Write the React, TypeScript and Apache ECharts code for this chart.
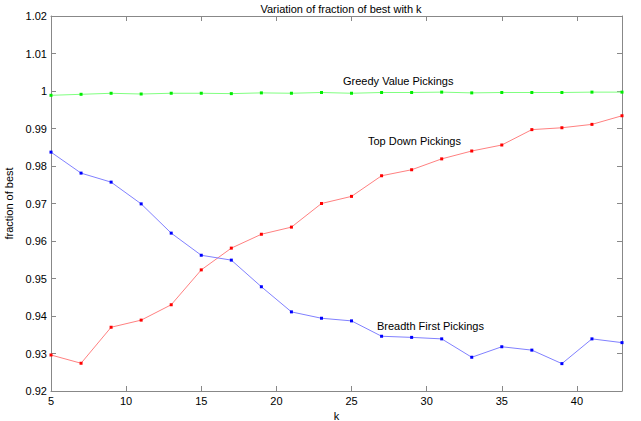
import React, { useEffect, useRef } from "react";
import * as echarts from "echarts";

const kValues = [5, 7, 9, 11, 13, 15, 17, 19, 21, 23, 25, 27, 29, 31, 33, 35, 37, 39, 41, 43];
const greedyValues = [0.99885, 0.99912, 0.99939, 0.9992, 0.9994, 0.9994, 0.9993, 0.9995, 0.9994, 0.9996, 0.9994, 0.9996, 0.9996, 0.9997, 0.9995, 0.9996, 0.9996, 0.9996, 0.9997, 0.9997];
const topDownValues = [0.9296, 0.9274, 0.937, 0.9389, 0.943, 0.9523, 0.9581, 0.9618, 0.9637, 0.97, 0.9719, 0.9774, 0.979, 0.9819, 0.984, 0.9856, 0.9897, 0.9902, 0.9911, 0.9934];
const breadthValues = [0.9837, 0.9781, 0.9757, 0.9699, 0.9621, 0.9562, 0.9549, 0.9478, 0.9411, 0.9394, 0.9387, 0.9346, 0.9343, 0.9339, 0.929, 0.9318, 0.9309, 0.9273, 0.9339, 0.9329];

const FONT = "Liberation Sans";

function pairs(vals: number[]) {
  return kValues.map((k, i) => [k, vals[i]]);
}

export default function App() {
  const ref = useRef<HTMLDivElement>(null);
  useEffect(() => {
    if (!ref.current) return;
    const chart = echarts.init(ref.current, null, { renderer: "svg" });
    const axisColor = "#888";
    const mkSeries = (name: string, vals: number[], line: string, mark: string) => ({
      name,
      type: "line",
      data: pairs(vals),
      symbol: "rect",
      symbolSize: 3,
      itemStyle: { color: mark },
      lineStyle: { color: line, width: 1 },
      xAxisIndex: 0,
      yAxisIndex: 0,
    });
    chart.setOption({
      animation: false,
      backgroundColor: "#fff",
      textStyle: { fontFamily: FONT },
      title: {
        text: "Variation of fraction of best with k",
        left: 336,
        textAlign: "center",
        top: -2,
        textStyle: { fontFamily: FONT, fontSize: 11, fontWeight: "normal", color: "#000" },
      },
      grid: { left: 51, right: 19, top: 16, bottom: 30, outerBoundsMode: "none", containLabel: false },
      xAxis: [
        {
          type: "value",
          min: 5,
          max: 43,
          interval: 5,
          name: "k",
          nameLocation: "middle",
          nameGap: 15,
          nameTextStyle: { fontFamily: FONT, fontSize: 11, color: "#000" },
          axisLine: { show: true, lineStyle: { color: axisColor } },
          axisTick: { show: true, inside: true, length: 5, lineStyle: { color: axisColor } },
          axisLabel: { fontFamily: FONT, fontSize: 11, color: "#000", margin: 4, showMaxLabel: false },
          splitLine: { show: false },
        },
        {
          type: "value",
          position: "top",
          min: 5,
          max: 43,
          interval: 5,
          axisLine: { show: true, lineStyle: { color: axisColor } },
          axisTick: { show: true, inside: true, length: 5, lineStyle: { color: axisColor } },
          axisLabel: { show: false },
          splitLine: { show: false },
        },
      ],
      yAxis: [
        {
          type: "value",
          min: 0.92,
          max: 1.02,
          interval: 0.01,
          name: "fraction of best",
          nameLocation: "middle",
          nameGap: 37,
          nameTextStyle: { fontFamily: FONT, fontSize: 11, color: "#000" },
          axisLine: { show: true, lineStyle: { color: axisColor } },
          axisTick: { show: true, inside: true, length: 5, lineStyle: { color: axisColor } },
          axisLabel: {
            fontFamily: FONT,
            fontSize: 11,
            color: "#000",
            margin: 4,
            formatter: (v: number) => String(+v.toFixed(2)),
          },
          splitLine: { show: false },
        },
        {
          type: "value",
          position: "right",
          min: 0.92,
          max: 1.02,
          interval: 0.01,
          axisLine: { show: true, lineStyle: { color: axisColor } },
          axisTick: { show: true, inside: true, length: 5, lineStyle: { color: axisColor } },
          axisLabel: { show: false },
          splitLine: { show: false },
        },
      ],
      series: [
        mkSeries("Greedy Value Pickings", greedyValues, "#80ff80", "#00ee00"),
        mkSeries("Top Down Pickings", topDownValues, "#ff8080", "#ff0000"),
        mkSeries("Breadth First Pickings", breadthValues, "#8080ff", "#0000ff"),
      ],
      graphic: [
        { type: "text", left: 343, top: 75, style: { text: "Greedy Value Pickings", font: `11px "${FONT}"`, fill: "#000" } },
        { type: "text", left: 368, top: 135, style: { text: "Top Down Pickings", font: `11px "${FONT}"`, fill: "#000" } },
        { type: "text", left: 377, top: 320, style: { text: "Breadth First Pickings", font: `11px "${FONT}"`, fill: "#000" } },
      ],
    });
    return () => chart.dispose();
  }, []);
  return (
    <div
      ref={ref}
      style={{ position: "absolute", left: 0, top: 0, width: 641, height: 421, background: "#fff" }}
    />
  );
}
